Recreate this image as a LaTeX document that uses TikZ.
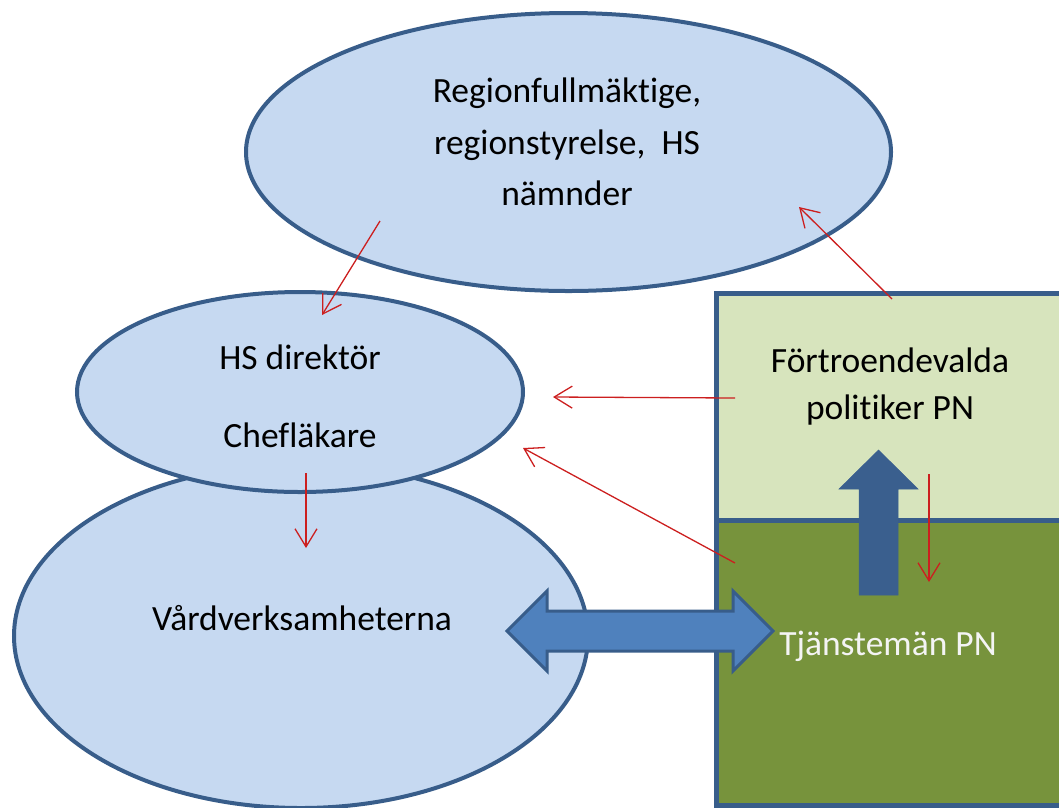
\documentclass[tikz,border=0pt]{standalone}
\usepackage{fontspec}
\setmainfont{Carlito}[Ligatures=NoCommon]
\usetikzlibrary{shapes.geometric,arrows.meta}
\definecolor{ellfill}{HTML}{C6D9F1}
\definecolor{bord}{HTML}{385D8A}
\definecolor{lgreen}{HTML}{D7E4BD}
\definecolor{olive}{HTML}{77933C}
\definecolor{arrblue}{HTML}{4F81BD}
\definecolor{upblue}{HTML}{3A5F8E}
\definecolor{redc}{HTML}{CC1F1F}
\definecolor{lighttext}{HTML}{F4F4F4}
\begin{document}
\begin{tikzpicture}[x=1pt,y=-1pt,
  ell/.style={ellipse, draw=bord, fill=ellfill, line width=4pt, inner sep=0pt},
  panel/.style={rectangle, draw=bord, line width=4.5pt, inner sep=0pt, anchor=north west},
  redarrow/.style={draw=redc, line width=1.3pt, -{Straight Barb[length=18pt,width=22pt]}},
  lbl/.style={font=\fontsize{35.5}{40}\selectfont, anchor=base, inner sep=0pt, text=black}]
\useasboundingbox (0,0) rectangle (1059,807);
\clip (0,0) rectangle (1059,807);

% ellipses
\node[ell, minimum width=645, minimum height=278] (top) at (568.5,152) {};
\node[ell, minimum width=574, minimum height=344] (vard) at (301,636) {};
\node[ell, minimum width=446, minimum height=200] (mid) at (300,392) {};

% panels
\node[panel, fill=lgreen, minimum width=380, minimum height=227] (pol) at (714,291) {};
\node[panel, fill=olive, minimum width=380, minimum height=285] (tj) at (714,518) {};

% thick arrows
\draw[fill=upblue, draw=upblue, line width=0.5pt] (859,595) -- (859,489) -- (839,489) -- (878.5,450) -- (918,489) -- (898,489) -- (898,595) -- cycle;
\draw[fill=arrblue, draw=bord, line width=3pt, line join=miter]
  (507,631) -- (547,591) -- (547,611) -- (733,611) -- (733,591) -- (773,631)
  -- (733,671) -- (733,651) -- (547,651) -- (547,671) -- cycle;

% red arrows
\coordinate (a1s) at (380,221); \coordinate (a1e) at (322,315);
\coordinate (a2s) at (892,299); \coordinate (a2e) at (799,207);
\coordinate (a3s) at (735,398); \coordinate (a3e) at (553,397);
\coordinate (a4s) at (735,563); \coordinate (a4e) at (523,448);
\coordinate (a5s) at (306,473); \coordinate (a5e) at (306,548);
\coordinate (a6s) at (929,474); \coordinate (a6e) at (929,582);
\draw[redarrow] (a1s) -- (a1e);
\draw[redarrow] (a2s) -- (a2e);
\draw[redarrow] (a3s) -- (a3e);
\draw[redarrow] (a4s) -- (a4e);
\draw[redarrow] (a5s) -- (a5e);
\draw[redarrow] (a6s) -- (a6e);

% texts
\node[lbl] (r1) at (567,102) {Regionfullmäktige,};
\node[lbl] (r2) at (567,154) {regionstyrelse,\ \ HS};
\node[lbl] (r3) at (567,205) {nämnder};
\node[lbl] (hs) at (300,369) {HS direktör};
\node[lbl] (ch) at (300,447) {Chefläkare};
\node[lbl] (vt) at (302,630) {Vårdverksamheterna};
\node[lbl] (f1) at (890,372) {Förtroendevalda};
\node[lbl] (f2) at (890,419) {politiker PN};
\node[lbl, text=lighttext] (tt) at (888,655) {Tjänstemän PN};
\end{tikzpicture}
\end{document}
